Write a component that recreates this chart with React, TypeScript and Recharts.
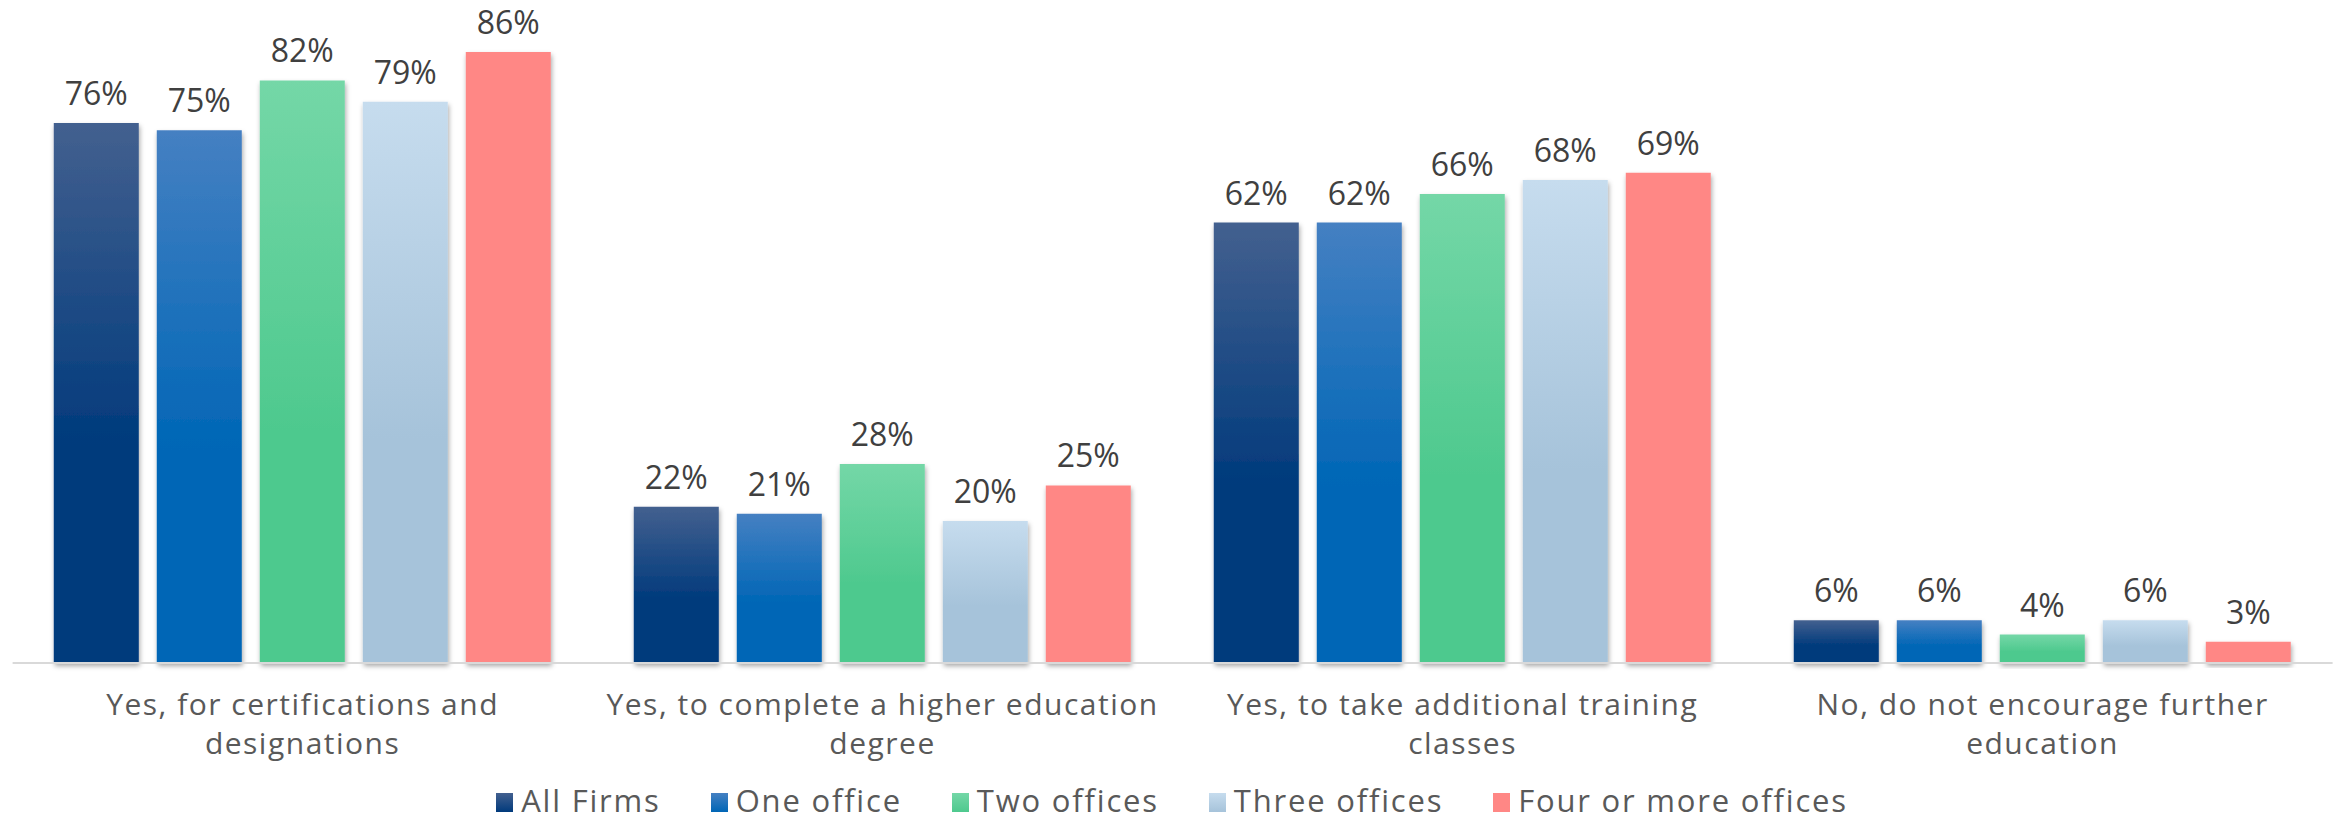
import { BarChart, Bar, XAxis, YAxis, LabelList } from "recharts";

const categories = [
  "Yes, for certifications and\ndesignations",
  "Yes, to complete a higher education\ndegree",
  "Yes, to take additional training\nclasses",
  "No, do not encourage further\neducation",
];

const allFirms = [76, 22, 62, 6];
const oneOffice = [75, 21, 62, 6];
const twoOffices = [82, 28, 66, 4];
const threeOffices = [79, 20, 68, 6];
const fourOrMore = [86, 25, 69, 3];

const series = [
  { key: "allFirms", name: "All Firms", top: "#43608f", bottom: "#003a7c", values: allFirms },
  { key: "oneOffice", name: "One office", top: "#4580c2", bottom: "#0066b6", values: oneOffice },
  { key: "twoOffices", name: "Two offices", top: "#74d7a7", bottom: "#4ec98e", values: twoOffices },
  { key: "threeOffices", name: "Three offices", top: "#c6dcee", bottom: "#a6c3da", values: threeOffices },
  { key: "fourOrMore", name: "Four or more offices", top: "#ff8785", bottom: "#ff8785", values: fourOrMore },
];

const data = categories.map((name, i) => {
  const row: Record<string, string | number> = { name };
  series.forEach((s) => (row[s.key] = s.values[i]));
  return row;
});

const FONT = "'Open Sans', 'Noto Sans', sans-serif";

function CategoryTick({ x, y, payload }: any) {
  const lines = String(payload.value).split("\n");
  return (
    <text
      x={x}
      y={y + 52}
      textAnchor="middle"
      fill="#595959"
      fontSize={30}
      fontFamily={FONT}
      letterSpacing={1.5}
    >
      {lines.map((l, i) => (
        <tspan key={i} x={x} dy={i === 0 ? 0 : 39}>
          {l}
        </tspan>
      ))}
    </text>
  );
}

function ValueLabel({ x, y, width, value }: any) {
  return (
    <text
      x={x + width / 2}
      y={y - 18}
      textAnchor="middle"
      fill="#404040"
      fontSize={32}
      fontFamily={FONT}
    >
      {value}%
    </text>
  );
}

export default function App() {
  return (
    <div style={{ position: "relative", width: 2343, height: 822, background: "#fff", fontFamily: FONT }}>
      <style>{`body{margin:0}`}</style>
      <BarChart
        width={2343}
        height={822}
        data={data}
        margin={{ top: 23.6, right: 10.4, left: 12.6, bottom: 99 }}
        barCategoryGap="7.1%"
        barGap={18}
      >
        <defs>
          {series.map((s) => (
            <linearGradient key={s.key} id={`grad-${s.key}`} x1="0" y1="0" x2="0" y2="1">
              <stop offset="0%" stopColor={s.top} />
              <stop offset="60%" stopColor={s.bottom} />
              <stop offset="100%" stopColor={s.bottom} />
            </linearGradient>
          ))}
          <filter id="barShadow" x="-20%" y="-20%" width="140%" height="140%">
            <feDropShadow dx="1" dy="3" stdDeviation="2.5" floodColor="#000" floodOpacity="0.35" />
          </filter>
        </defs>
        <XAxis
          dataKey="name"
          height={60}
          tickSize={0}
          tickMargin={0}
          axisLine={{ stroke: "#d9d9d9", strokeWidth: 2 }}
          tickLine={false}
          tick={<CategoryTick />}
          interval={0}
        />
        <YAxis hide domain={[0, 90]} />
        {series.map((s) => (
          <Bar
            key={s.key}
            dataKey={s.key}
            name={s.name}
            fill={`url(#grad-${s.key})`}
            filter="url(#barShadow)"
            isAnimationActive={false}
          >
            <LabelList dataKey={s.key} content={<ValueLabel />} />
          </Bar>
        ))}
      </BarChart>
      <div
        style={{
          position: "absolute",
          top: 779,
          left: 12,
          width: 2320,
          height: 42,
          display: "flex",
          justifyContent: "center",
          alignItems: "center",
          gap: 50,
          fontSize: 31,
          lineHeight: "42px",
          letterSpacing: 1.8,
          color: "#595959",
        }}
      >
        {series.map((s) => (
          <span key={s.key} style={{ whiteSpace: "nowrap" }}>
            <span
              style={{
                display: "inline-block",
                width: 17,
                height: 19,
                marginRight: 8,
                verticalAlign: "baseline",
                background: `linear-gradient(${s.top}, ${s.bottom})`,
              }}
            />
            {s.name}
          </span>
        ))}
      </div>
    </div>
  );
}
